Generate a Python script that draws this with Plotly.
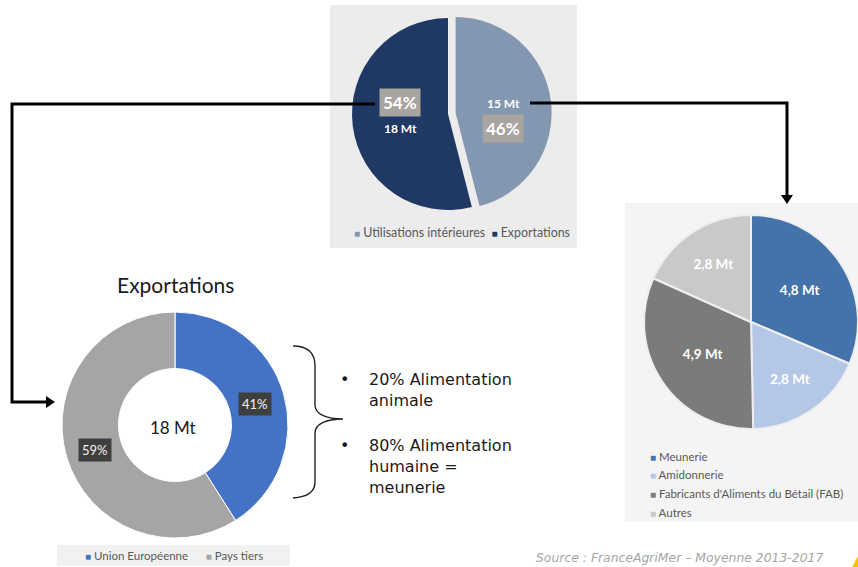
import math
import plotly.graph_objects as go

# --- data -------------------------------------------------------------
top_labels = ["Utilisations intérieures", "Exportations"]
top_pct = [46, 54]
top_mt = [15, 18]
top_colors = ["#8497b0", "#1f3864"]

use_labels = ["Meunerie", "Amidonnerie", "Fabricants d'Aliments du Bétail (FAB)", "Autres"]
use_mt = [4.8, 2.8, 4.9, 2.8]
use_colors = ["#4373aa", "#b4c7e7", "#7b7b7b", "#c9c9c9"]

exp_title = "Exportations"
exp_labels = ["Union Européenne", "Pays tiers"]
exp_pct = [41, 59]
exp_total_mt = 18
exp_colors = ["#4472c4", "#a5a5a5"]

bullets = [["20% Alimentation", "animale"], ["80% Alimentation", "humaine =", "meunerie"]]
source_text = "Source : FranceAgriMer – Moyenne 2013-2017"

# --- page geometry helpers (pixel -> paper) ----------------------------
W, H = 858, 567


def X(p):
    return p / W


def Y(p):
    return 1 - p / H


def P(x, y):
    return f"{X(x):.5f},{Y(y):.5f}"


def mid_angles(values):
    total = sum(values)
    out, acc = [], 0.0
    for v in values:
        out.append(math.radians((acc + v / 2) / total * 360))
        acc += v
    return out


def label(x, y, text, font, xanchor="center", yanchor="middle", **kw):
    d = dict(x=X(x), y=Y(y), text=text, showarrow=False, font=font,
             xanchor=xanchor, yanchor=yanchor)
    d.update(kw)
    return d


BASE = "Lato, 'Open Sans', sans-serif"
TXT = "'DejaVu Sans', Verdana, sans-serif"
LEG = "#595959"

fig = go.Figure()
shapes = []
ann = []

# panel backgrounds
shapes.append(dict(type="rect", x0=X(330), x1=X(577), y0=Y(248), y1=Y(5),
                   fillcolor="#ececec", line_width=0, layer="below"))
shapes.append(dict(type="rect", x0=X(625), x1=X(858), y0=Y(522), y1=Y(203),
                   fillcolor="#f4f4f4", line_width=0, layer="below"))
shapes.append(dict(type="rect", x0=X(57), x1=X(290), y0=Y(566), y1=Y(545),
                   fillcolor="#f1f1f1", line_width=0, layer="below"))

sq = '<span style="font-size:10px;color:{c}">■</span>'

# --- top pie: utilisation vs exports ----------------------------------
tcx, tcy, tr, tpull = 448, 114, 96, 0.08
th = tr * (1 + tpull)
fig.add_trace(go.Pie(
    labels=top_labels, values=top_pct, sort=False, direction="clockwise", rotation=0,
    marker=dict(colors=top_colors, line=dict(width=0)),
    pull=[tpull, 0], textinfo="none", hoverinfo="label+percent",
    domain=dict(x=[X(tcx - th), X(tcx + th)], y=[Y(tcy + th), Y(tcy - th)]),
))
for i, a in enumerate(mid_angles(top_pct)):
    off = tr * tpull if i == 0 else 0
    lx = tcx + off * math.sin(a) + 0.5 * tr * math.sin(a)
    if i == 0:
        mt_y, pct_y = tcy - 11, tcy + 14
    else:
        pct_y, mt_y = tcy - 12, tcy + 14
    ann.append(label(lx, pct_y, f"<b>{top_pct[i]}%</b>",
                     dict(family=BASE, size=17, color="white"),
                     bgcolor="#a8a4a0", borderpad=3))
    ann.append(label(lx, mt_y, f"<b>{top_mt[i]} Mt</b>",
                     dict(family=BASE, size=12, color="white")))

ann.append(label(462, 233, "  ".join(sq.format(c=c) + " " + l for l, c in zip(top_labels, top_colors)),
                 dict(family=BASE, size=12.4, color=LEG)))

# --- right pie: domestic uses ------------------------------------------
fig.add_trace(go.Pie(
    labels=use_labels, values=use_mt, sort=False, direction="clockwise", rotation=0,
    marker=dict(colors=use_colors, line=dict(color="#eeeeee", width=2)),
    texttemplate="<b>%{value:.1f} Mt</b>", textposition="inside",
    insidetextorientation="horizontal",
    textfont=dict(family=BASE, size=13.5, color="white"), hoverinfo="label+value",
    domain=dict(x=[X(644), 1.0], y=[Y(430), Y(214)]),
))
for i, (l, c) in enumerate(zip(use_labels, use_colors)):
    ann.append(label(648, 456 + 18.7 * i, sq.format(c=c) + " " + l,
                     dict(family=BASE, size=11.5, color=LEG), xanchor="left"))

# --- donut: exports destinations ---------------------------------------
dcx, dcy, dr = 175, 425, 113
fig.add_trace(go.Pie(
    labels=exp_labels, values=exp_pct, sort=False, direction="clockwise", rotation=0,
    hole=0.5, marker=dict(colors=exp_colors, line=dict(color="white", width=1)),
    textinfo="none", hoverinfo="label+percent",
    domain=dict(x=[X(dcx - dr), X(dcx + dr)], y=[Y(dcy + dr), Y(dcy - dr)]),
))
for v, a in zip(exp_pct, mid_angles(exp_pct)):
    ann.append(label(dcx + 0.735 * dr * math.sin(a), dcy - 0.735 * dr * math.cos(a) + 2,
                     f"{v}%", dict(family=BASE, size=13, color="#f2f2f2"),
                     bgcolor="#3f3f3f", borderpad=3))
ann.append(label(dcx - 2, dcy + 2, f"{exp_total_mt} Mt",
                 dict(family=BASE, size=17, color="#1a1a1a")))
ann.append(label(dcx, 284, exp_title, dict(family=BASE, size=21, color="#1a1a1a")))
ann.append(label(174, 555, "      ".join(sq.format(c=c) + " " + l for l, c in zip(exp_labels, exp_colors)),
                 dict(family=BASE, size=11.5, color=LEG)))

# --- bullets and brace --------------------------------------------------
starts = [368, 434]
for lines, y0 in zip(bullets, starts):
    ann.append(label(338, y0, "•", dict(family=TXT, size=16, color="#1a1a1a"),
                     xanchor="left", yanchor="top"))
    ann.append(label(367, y0, "<br>".join(lines), dict(family=TXT, size=16, color="#1a1a1a"),
                     xanchor="left", yanchor="top", align="left"))

brace = ("M " + P(293, 346) + " C " + P(308, 346) + " " + P(315, 353) + " " + P(315, 366)
         + " L " + P(315, 405) + " C " + P(315, 414) + " " + P(326, 419) + " " + P(343, 419)
         + " C " + P(326, 419) + " " + P(315, 424) + " " + P(315, 433)
         + " L " + P(315, 482) + " C " + P(315, 491) + " " + P(308, 497) + " " + P(293, 498))
shapes.append(dict(type="path", path=brace, line=dict(color="#222222", width=1.4)))

# --- connectors ----------------------------------------------------------
shapes.append(dict(type="path", line=dict(color="black", width=3),
                   path="M " + P(375, 104) + " L " + P(12, 104) + " L " + P(12, 402)
                   + " L " + P(47, 402)))
shapes.append(dict(type="path", fillcolor="black", line_width=0,
                   path="M " + P(46, 396) + " L " + P(55, 402) + " L " + P(46, 408) + " Z"))
shapes.append(dict(type="path", line=dict(color="black", width=3),
                   path="M " + P(530, 103) + " L " + P(787, 103) + " L " + P(787, 196)))
shapes.append(dict(type="path", fillcolor="black", line_width=0,
                   path="M " + P(781, 195) + " L " + P(787, 204) + " L " + P(793, 195) + " Z"))

# --- source line -----------------------------------------------------------
ann.append(label(679, 557, source_text,
                 dict(family=TXT, size=12.4, color="#a6a6a6", style="italic")))
shapes.append(dict(type="path", fillcolor="#f2c500", line_width=0,
                   path="M " + P(852, 567) + " L " + P(858, 556) + " L " + P(858, 567) + " Z"))

fig.update_layout(
    width=W, height=H, margin=dict(l=0, r=0, t=0, b=0),
    paper_bgcolor="white", plot_bgcolor="white", showlegend=False,
    separators=", ", shapes=shapes, annotations=ann,
)

fig.write_html("out.html")
